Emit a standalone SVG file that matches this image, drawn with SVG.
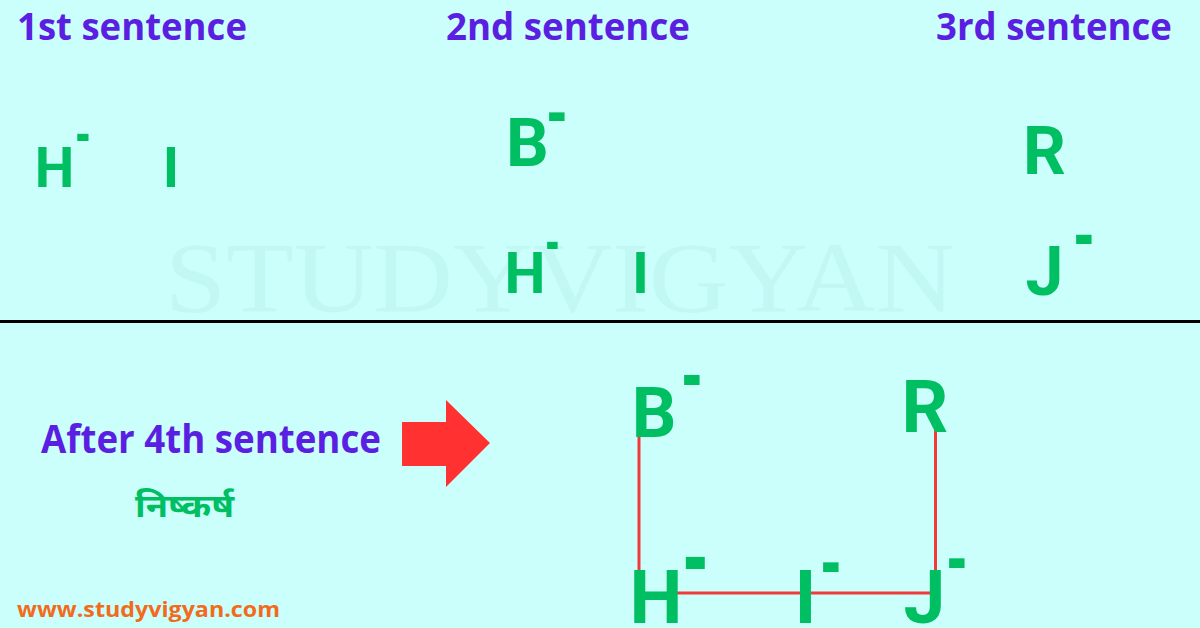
<svg xmlns="http://www.w3.org/2000/svg" width="1200" height="628" viewBox="0 0 1200 628">
<style>
.hdr{font-family:"Open Sans","Liberation Sans",sans-serif;font-weight:700;font-size:37px;fill:#5B1FE2}
.sym{font-family:Roboto,"Liberation Sans",sans-serif;font-weight:700;fill:#00BF63;text-anchor:middle}
.minus{font-family:Roboto,"Liberation Sans",sans-serif;font-weight:700;fill:#00BF63}
.wm{font-family:"Liberation Serif",serif;font-size:100px;fill:#C2F8F4}
.bond{stroke:#F23A3A;stroke-width:3;fill:none}
</style>
<rect width="1200" height="628" fill="#CAFFFB"/>
<text class="wm" x="165" y="311" textLength="790" lengthAdjust="spacingAndGlyphs">STUDYVIGYAN</text>
<line x1="0" y1="321.5" x2="1200" y2="321.5" stroke="#000" stroke-width="3"/>

<g id="headers">
<text class="hdr" x="17" y="40" textLength="230" lengthAdjust="spacingAndGlyphs">1st sentence</text>
<text class="hdr" x="446" y="40" textLength="244" lengthAdjust="spacingAndGlyphs">2nd sentence</text>
<text class="hdr" x="936" y="40" textLength="236" lengthAdjust="spacingAndGlyphs">3rd sentence</text>
</g>

<g id="s1-H"><text class="sym" x="54.5" y="187" font-size="56">H</text><text class="minus" x="75" y="157" font-size="64" textLength="16" lengthAdjust="spacingAndGlyphs">-</text></g>
<g id="s1-I"><text class="sym" x="171" y="187" font-size="56">I</text></g>

<g id="s2-B"><text class="sym" x="527.5" y="166" font-size="67">B</text><text class="minus" x="546" y="141" font-size="78" textLength="22" lengthAdjust="spacingAndGlyphs">-</text></g>
<g id="s2-H"><text class="sym" x="525" y="293" font-size="58">H</text><text class="minus" x="545" y="265" font-size="64" textLength="15" lengthAdjust="spacingAndGlyphs">-</text></g>
<g id="s2-I"><text class="sym" x="640.5" y="293" font-size="58">I</text></g>

<g id="s3-R"><text class="sym" x="1044.5" y="174" font-size="67">R</text></g>
<g id="s3-J"><text class="sym" x="1044.5" y="295" font-size="68">J</text><text class="minus" x="1073" y="265" font-size="84" textLength="22" lengthAdjust="spacingAndGlyphs">-</text></g>

<g id="after-label">
<text x="41" y="453" font-family="'Open Sans','Liberation Sans',sans-serif" font-weight="700" font-size="40" fill="#5B1FE2" textLength="340" lengthAdjust="spacingAndGlyphs">After 4th sentence</text>
<text x="135" y="517" font-family="'Noto Sans Devanagari','Noto Sans','Lohit Devanagari',sans-serif" font-weight="700" font-size="32" fill="#00BF63" textLength="99" lengthAdjust="spacingAndGlyphs">निष्कर्ष</text>
</g>
<polygon id="arrow" points="402,422 446,422 446,400 490,443 446,487 446,466 402,466" fill="#FF3131"/>
<text id="url" x="17" y="617" font-family="'Open Sans','Liberation Sans',sans-serif" font-weight="700" font-size="22" fill="#F26B1D" textLength="263" lengthAdjust="spacingAndGlyphs">www.studyvigyan.com</text>

<g id="connectors">
<line class="bond" x1="639" y1="437" x2="639" y2="572"/>
<line class="bond" x1="935.5" y1="430" x2="935.5" y2="572"/>
<line class="bond" x1="676" y1="593" x2="935.5" y2="593"/>
</g>

<g id="f-B"><text class="sym" x="654" y="437" font-size="70">B</text><text class="minus" x="681" y="408" font-size="90" textLength="22" lengthAdjust="spacingAndGlyphs">-</text></g>
<g id="f-R"><text class="sym" x="925" y="432" font-size="73">R</text></g>
<g id="f-H"><text class="sym" x="656" y="623" font-size="75">H</text><text class="minus" x="682" y="596" font-size="110" textLength="27" lengthAdjust="spacingAndGlyphs">-</text></g>
<g id="f-I"><text class="sym" x="805.5" y="623" font-size="75">I</text><text class="minus" x="820" y="594" font-size="88" textLength="22" lengthAdjust="spacingAndGlyphs">-</text></g>
<g id="f-J"><text class="sym" x="924.5" y="623" font-size="75">J</text><text class="minus" x="946" y="590" font-size="88" textLength="22" lengthAdjust="spacingAndGlyphs">-</text></g>
</svg>
